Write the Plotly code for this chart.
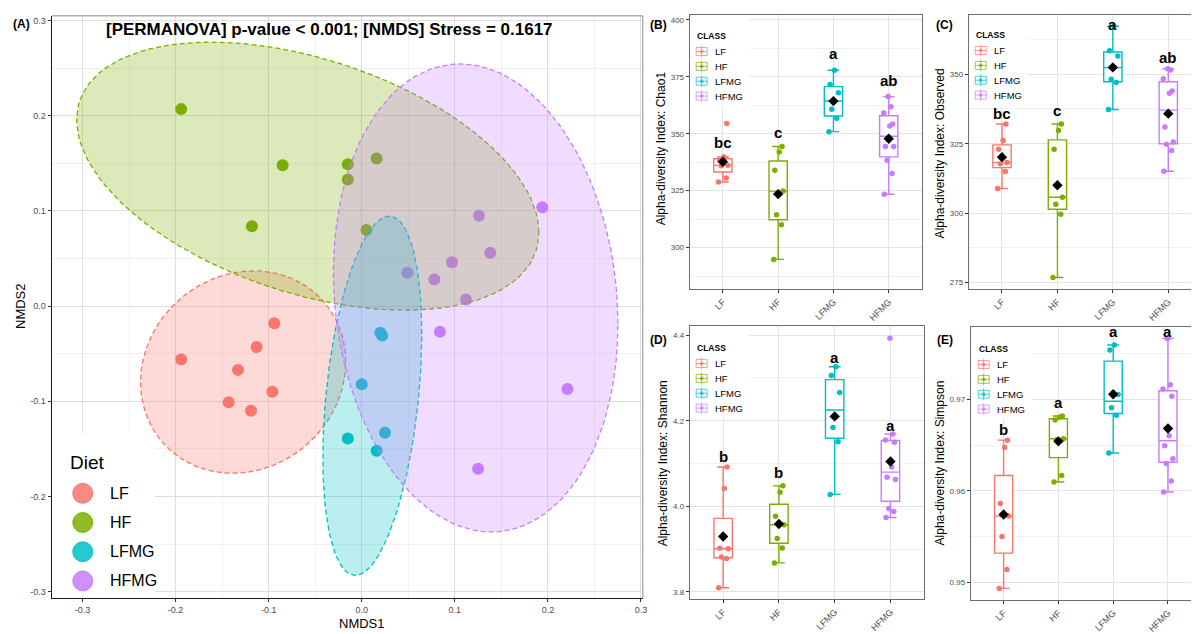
import numpy as np
import plotly.graph_objects as go

W, H = 1195, 634
FONT = "Liberation Sans, Arial, Helvetica, sans-serif"

GROUPS = ["LF", "HF", "LFMG", "HFMG"]
COLORS = ["#F8766D", "#7CAE00", "#00BFC4", "#C77CFF"]

# ---- NMDS scores (panel A) ----
NMDS1 = {
    "LF": [-0.194, -0.094, -0.113, -0.133, -0.096, -0.143, -0.119],
    "HF": [-0.194, -0.085, -0.118, -0.015, -0.015, 0.016, 0.005],
    "LFMG": [0.022, 0.020, 0.000, 0.025, -0.015, 0.016],
    "HFMG": [0.194, 0.126, 0.138, 0.097, 0.049, 0.078, 0.112, 0.084, 0.221, 0.125],
}
NMDS2 = {
    "LF": [-0.056, -0.018, -0.043, -0.067, -0.090, -0.101, -0.110],
    "HF": [0.207, 0.148, 0.084, 0.149, 0.133, 0.155, 0.080],
    "LFMG": [-0.031, -0.028, -0.082, -0.133, -0.139, -0.152],
    "HFMG": [0.104, 0.095, 0.056, 0.046, 0.035, 0.028, 0.007, -0.027, -0.087, -0.171],
}
NMDS_TITLE = "[PERMANOVA] p-value < 0.001; [NMDS] Stress = 0.1617"
A_TICKS = [-0.3, -0.2, -0.1, 0.0, 0.1, 0.2, 0.3]

# ---- alpha diversity (panels B-E) ----
CHAO1 = {
    "LF": [328.8, 330.5, 335.9, 336.1, 338.2, 339.8, 354.5],
    "HF": [294.8, 310.0, 314.4, 324.8, 334.0, 342.0, 344.4],
    "LFMG": [350.9, 356.8, 360.8, 368.0, 371.6, 377.9],
    "HFMG": [323.4, 332.5, 338.3, 344.4, 344.4, 353.4, 354.3, 359.1, 361.8, 366.3],
}
OBSERVED = {
    "LF": [308.9, 315.0, 317.8, 318.2, 323.0, 326.2, 332.1],
    "HF": [276.8, 299.6, 303.2, 305.7, 323.0, 329.8, 332.1],
    "LFMG": [337.3, 347.0, 348.2, 356.6, 358.5, 367.3],
    "HFMG": [315.1, 322.6, 324.8, 325.6, 331.0, 343.2, 344.0, 348.4, 351.5, 352.0],
}
SHANNON = {
    "LF": [3.810, 3.878, 3.882, 3.901, 3.902, 4.042, 4.092],
    "HF": [3.868, 3.903, 3.925, 3.957, 3.977, 4.033, 4.048],
    "LFMG": [4.028, 4.151, 4.184, 4.266, 4.306, 4.326],
    "HFMG": [3.974, 3.988, 3.995, 4.063, 4.068, 4.092, 4.150, 4.155, 4.169, 4.393],
}
SIMPSON = {
    "LF": [0.94931, 0.95137, 0.95499, 0.95723, 0.95861, 0.96475, 0.96555],
    "HF": [0.96096, 0.96168, 0.96560, 0.96570, 0.96775, 0.96805, 0.96819],
    "LFMG": [0.96414, 0.96827, 0.96910, 0.97054, 0.97543, 0.97597],
    "HFMG": [0.95987, 0.96107, 0.96300, 0.96350, 0.96494, 0.96602, 0.97036, 0.97116, 0.97163, 0.97669],
}
LETTERS_CHAO1 = ["bc", "c", "a", "ab"]
LETTERS_OBSERVED = ["bc", "c", "a", "ab"]
LETTERS_SHANNON = ["b", "b", "a", "a"]
LETTERS_SIMPSON = ["b", "a", "a", "a"]
LETTER_Y_CHAO1 = [346.3, 350.7, 385.2, 373.2]
LETTER_Y_OBSERVED = [335.7, 336.9, 367.9, 356.0]
LETTER_Y_SHANNON = [4.117, 4.080, 4.348, 4.188]
LETTER_Y_SIMPSON = [0.96675, 0.96971, 0.97742, 0.97742]

# ---- layout helpers (pixel geometry) ----
PANELS = {
    "A": dict(n="", dx=(52, 645), dy=(16, 604), xr=(-0.333, 0.302), yr=(-0.307, 0.305)),
    "B": dict(n="2", dx=(692, 925), dy=(15, 292), xr=(0.4, 4.6), yr=(281.7, 402.2)),
    "C": dict(n="3", dx=(972, 1195), dy=(15, 292), xr=(0.4, 4.41), yr=(272.6, 371.4)),
    "D": dict(n="4", dx=(692, 927), dy=(329, 605), xr=(0.4, 4.6), yr=(3.783, 4.4216)),
    "E": dict(n="5", dx=(974, 1195), dy=(330, 606), xr=(0.4, 4.42), yr=(0.94801, 0.97796)),
}
GRID = "#E3E3E3"
GRID_MINOR = "#F1F1F1"
FRAME = "#6E6E6E"
TICKC = "#4D4D4D"
JITTER = [-0.08, 0.06, -0.03, 0.09, -0.06, 0.02, 0.07, -0.09, 0.04, -0.01]


def PX(x):
    return x / W


def PY(y):
    return 1 - y / H


def to_data(p, px, py):
    (x0, x1), (y0, y1) = p["dx"], p["dy"]
    (a0, a1), (b0, b1) = p["xr"], p["yr"]
    return a0 + (px - x0) / (x1 - x0) * (a1 - a0), b1 - (py - y0) / (y1 - y0) * (b1 - b0)


def rgba(hexc, a):
    h = hexc.lstrip("#")
    r, g, b = int(h[0:2], 16), int(h[2:4], 16), int(h[4:6], 16)
    return f"rgba({r},{g},{b},{a})"


def t_ellipse(x, y, level=0.95, npts=120):
    pts = np.column_stack([x, y]).astype(float)
    n = len(pts)
    center = pts.mean(axis=0)
    cov = np.cov(pts, rowvar=False)
    dfd = n - 1
    fq = dfd / 2 * ((1 - level) ** (-2 / dfd) - 1)  # F(2, n-1) quantile
    radius = np.sqrt(2 * fq)
    th = np.linspace(0, 2 * np.pi, npts)
    circ = np.column_stack([np.cos(th), np.sin(th)])
    ell = center + radius * circ @ np.linalg.cholesky(cov).T
    return ell[:, 0], ell[:, 1]


def box_stats(v):
    v = np.sort(np.asarray(v, float))
    q1, med, q3 = np.percentile(v, [25, 50, 75])
    iqr = q3 - q1
    lo = v[v >= q1 - 1.5 * iqr].min()
    hi = v[v <= q3 + 1.5 * iqr].max()
    return q1, med, q3, lo, hi


fig = go.Figure()
shapes = []
annotations = []

# ================= Panel A =================
for g, c in zip(GROUPS, COLORS):
    fig.add_trace(go.Scatter(
        x=NMDS1[g], y=NMDS2[g], mode="markers", xaxis="x", yaxis="y",
        marker=dict(size=12, color=c, line=dict(width=0)), showlegend=False, hoverinfo="skip"))
for g, c in zip(GROUPS, COLORS):
    ex, ey = t_ellipse(NMDS1[g], NMDS2[g])
    fig.add_trace(go.Scatter(
        x=ex, y=ey, mode="lines", fill="toself", fillcolor=rgba(c, 0.27),
        line=dict(color=c, width=1.3, dash="5px,3px"), xaxis="x", yaxis="y",
        showlegend=False, hoverinfo="skip"))

# ================= Panels B-E =================
ALPHA = [
    ("B", CHAO1, LETTERS_CHAO1, LETTER_Y_CHAO1, "Alpha-diversity Index: Chao1"),
    ("C", OBSERVED, LETTERS_OBSERVED, LETTER_Y_OBSERVED, "Alpha-diversity Index: Observed"),
    ("D", SHANNON, LETTERS_SHANNON, LETTER_Y_SHANNON, "Alpha-diversity Index: Shannon"),
    ("E", SIMPSON, LETTERS_SIMPSON, LETTER_Y_SIMPSON, "Alpha-diversity Index: Simpson"),
]
for key, data, letters, ly, _t in ALPHA:
    n = PANELS[key]["n"]
    for k, (g, c) in enumerate(zip(GROUPS, COLORS), start=1):
        q1, med, q3, lo, hi = box_stats(data[g])
        fig.add_trace(go.Box(
            x=[k], q1=[q1], median=[med], q3=[q3], lowerfence=[lo], upperfence=[hi],
            width=0.33, whiskerwidth=0.65, boxpoints=False,
            line=dict(color=c, width=1.4), fillcolor="white",
            xaxis="x" + n, yaxis="y" + n, showlegend=False, hoverinfo="skip"))
        vals = np.asarray(data[g], float)
        jx = k + np.array(JITTER[:len(vals)])
        fig.add_trace(go.Scatter(
            x=jx, y=vals, mode="markers", marker=dict(size=5.5, color=c),
            xaxis="x" + n, yaxis="y" + n, showlegend=False, hoverinfo="skip"))
        fig.add_trace(go.Scatter(
            x=[k], y=[vals.mean()], mode="markers",
            marker=dict(size=8, color="black", symbol="diamond"),
            xaxis="x" + n, yaxis="y" + n, showlegend=False, hoverinfo="skip"))
        annotations.append(dict(
            x=k, y=ly[k - 1], xref="x" + n, yref="y" + n, text=letters[k - 1],
            showarrow=False, font=dict(size=15, color="black", family=FONT, weight="bold")))

# ================= Axes =================
base = dict(zeroline=False, showgrid=True, gridcolor=GRID, gridwidth=1, ticks="outside",
            ticklen=3, tickwidth=1, tickcolor="#333333", showline=True, linewidth=1,
            linecolor=FRAME)
layout_axes = {}
for key, p in PANELS.items():
    n = p["n"]
    xd = [p["dx"][0] / W, p["dx"][1] / W]
    yd = [1 - p["dy"][1] / H, 1 - p["dy"][0] / H]
    xa = dict(base, domain=xd, range=list(p["xr"]), anchor="y" + n)
    ya = dict(base, domain=yd, range=list(p["yr"]), anchor="x" + n)
    if key == "A":
        minor_vals = [round(v + 0.05, 2) for v in A_TICKS[:-1]]
        for ax in (xa, ya):
            ax.update(tickmode="array", tickvals=A_TICKS,
                      ticktext=[f"{v:.1f}" for v in A_TICKS],
                      tickfont=dict(size=9, color=TICKC, family=FONT),
                      minor=dict(tickmode="array", tickvals=minor_vals, showgrid=True,
                                 gridcolor=GRID_MINOR, gridwidth=1),
                      linecolor="#1a1a1a", linewidth=1.3, mirror=False, gridcolor="#DEDEDE")
    else:
        xa.update(tickmode="array", tickvals=[1, 2, 3, 4], ticktext=GROUPS, tickangle=-45,
                  tickfont=dict(size=9, color=TICKC, family=FONT), mirror=True)
        ya.update(tickfont=dict(size=8, color=TICKC, family=FONT),
                  mirror=(key in ("B", "D")))
        if key == "B":
            ya.update(tick0=300, dtick=25, minor=dict(tick0=300, dtick=12.5, showgrid=True, gridcolor=GRID_MINOR))
        elif key == "C":
            ya.update(tick0=275, dtick=25, minor=dict(tick0=275, dtick=12.5, showgrid=True, gridcolor=GRID_MINOR))
        elif key == "D":
            ya.update(tick0=3.8, dtick=0.2, tickformat=".1f",
                      minor=dict(tick0=3.8, dtick=0.1, showgrid=True, gridcolor=GRID_MINOR))
        else:
            ya.update(tick0=0.95, dtick=0.01, tickformat=".2f",
                      minor=dict(tick0=0.95, dtick=0.005, showgrid=True, gridcolor=GRID_MINOR))
    layout_axes["xaxis" + n] = xa
    layout_axes["yaxis" + n] = ya

# frame top/right for panel A
shapes.append(dict(type="line", xref="paper", yref="paper", x0=PX(52), x1=PX(645), y0=PY(16), y1=PY(16),
                   line=dict(color="#8A8A8A", width=1)))
shapes.append(dict(type="line", xref="paper", yref="paper", x0=PX(645), x1=PX(645), y0=PY(16), y1=PY(604),
                   line=dict(color="#8A8A8A", width=1)))


def white_box(key, x0, y0, x1, y1):
    p = PANELS[key]
    a0, b1 = to_data(p, x0, y0)
    a1, b0 = to_data(p, x1, y1)
    shapes.append(dict(type="rect", xref="x" + p["n"], yref="y" + p["n"], layer="between",
                       x0=a0, x1=a1, y0=b0, y1=b1, fillcolor="white", line=dict(width=0)))


def text(px, py, s, size, xanchor="center", weight="normal", angle=0, color="black"):
    annotations.append(dict(x=PX(px), y=PY(py), xref="paper", yref="paper", text=s,
                            showarrow=False, xanchor=xanchor, yanchor="middle", textangle=angle,
                            font=dict(size=size, color=color, family=FONT, weight=weight)))


# ---- Panel A legend "Diet" ----
white_box("A", 52.5, 437, 155, 603.5)
text(68, 467, "Diet", 19, xanchor="left")
for i, (g, c) in enumerate(zip(GROUPS, COLORS)):
    yy = 498 + i * 29.5
    shapes.append(dict(type="circle", xref="paper", yref="paper",
                       x0=PX(73), x1=PX(93), y0=PY(yy + 10), y1=PY(yy - 10),
                       fillcolor=rgba(c, 0.85), line=dict(color=c, width=1)))
    text(108, yy, g, 16, xanchor="left")


# ---- CLASS legends ----
def class_legend(key, xl, yt, bx):
    white_box(key, *bx)
    text(xl, yt, "CLASS", 8.5, xanchor="left", weight="bold")
    for i, (g, c) in enumerate(zip(GROUPS, COLORS)):
        yy = yt + 16 + i * 15
        cl = rgba(c, 0.7)
        shapes.append(dict(type="rect", xref="paper", yref="paper", x0=PX(xl + 1.5), x1=PX(xl + 12.5),
                           y0=PY(yy + 4), y1=PY(yy - 4), fillcolor="white", line=dict(color=cl, width=1)))
        shapes.append(dict(type="line", xref="paper", yref="paper", x0=PX(xl + 1.5), x1=PX(xl + 12.5),
                           y0=PY(yy), y1=PY(yy), line=dict(color=cl, width=1)))
        shapes.append(dict(type="line", xref="paper", yref="paper", x0=PX(xl + 7), x1=PX(xl + 7),
                           y0=PY(yy + 6), y1=PY(yy - 6), line=dict(color=cl, width=1)))
        shapes.append(dict(type="circle", xref="paper", yref="paper", x0=PX(xl + 5), x1=PX(xl + 9),
                           y0=PY(yy + 2), y1=PY(yy - 2), fillcolor=cl, line=dict(width=0)))
        text(xl + 18, yy, g, 9.5, xanchor="left")


class_legend("B", 697, 36, (692.5, 15.5, 752, 107))
class_legend("C", 977, 35, (972.5, 15.5, 1032, 106))
class_legend("D", 697, 351, (692.5, 329.5, 752, 421))
class_legend("E", 980, 352, (974.5, 330.5, 1035, 422))

# ---- titles / labels ----
text(331, 30, NMDS_TITLE, 17, weight="bold")
text(22, 24, "(A)", 12, weight="bold")
text(661, 25, "(B)", 12, weight="bold")
text(948, 25, "(C)", 12, weight="bold")
text(661, 343, "(D)", 12, weight="bold")
text(948, 343, "(E)", 12, weight="bold")
text(20, 309, "NMDS2", 13, angle=-90)
text(363, 629, "NMDS1", 13)
text(663, 150, ALPHA[0][4], 12, angle=-90)
text(943, 155, ALPHA[1][4], 12, angle=-90)
text(665, 468, ALPHA[2][4], 12, angle=-90)
text(943, 467, ALPHA[3][4], 12, angle=-90)

fig.update_layout(
    width=W, height=H, margin=dict(l=0, r=0, t=0, b=0),
    paper_bgcolor="white", plot_bgcolor="white",
    font=dict(family=FONT, color="black"),
    showlegend=False, shapes=shapes, annotations=annotations,
    **layout_axes,
)
fig.write_html(
    "out.html",
    config={"displayModeBar": False},
    post_script="document.body.style.margin='0';document.body.style.padding='0';",
)
